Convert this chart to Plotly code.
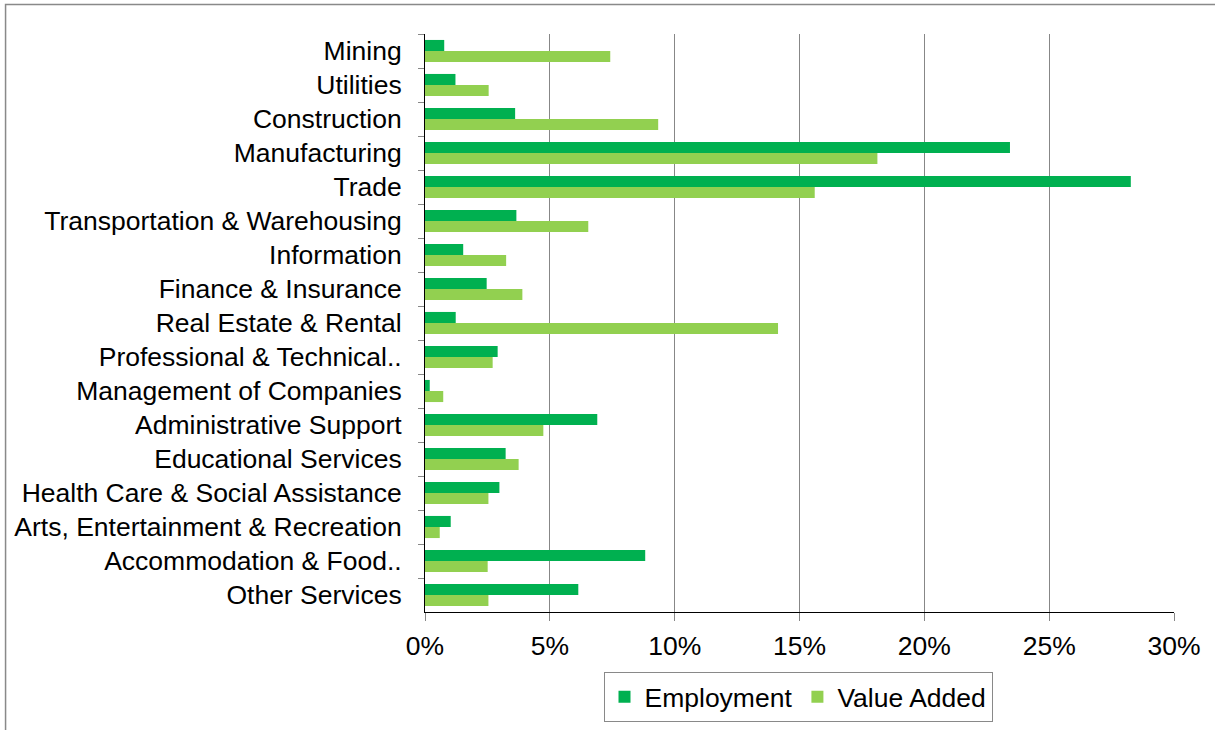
import plotly.graph_objects as go

# Industry shares of employment and value added (percent)
industries = [
    "Mining",
    "Utilities",
    "Construction",
    "Manufacturing",
    "Trade",
    "Transportation & Warehousing",
    "Information",
    "Finance & Insurance",
    "Real Estate & Rental",
    "Professional & Technical..",
    "Management of Companies",
    "Administrative Support",
    "Educational Services",
    "Health Care & Social Assistance",
    "Arts, Entertainment & Recreation",
    "Accommodation & Food..",
    "Other Services",
]
employment = [0.77, 1.22, 3.61, 23.43, 28.27, 3.66, 1.53, 2.47, 1.23, 2.91,
              0.19, 6.90, 3.23, 2.98, 1.03, 8.82, 6.14]
value_added = [7.42, 2.55, 9.34, 18.12, 15.61, 6.54, 3.25, 3.90, 14.14, 2.71,
               0.73, 4.74, 3.75, 2.54, 0.59, 2.51, 2.54]
x_ticks = [0, 5, 10, 15, 20, 25, 30]
x_tick_labels = [f"{v}%" for v in x_ticks]

FONT = "Liberation Sans, Arial, sans-serif"
FS = 26.5

fig = go.Figure()
fig.add_trace(go.Bar(name="Employment", y=industries, x=employment,
                     orientation="h", marker=dict(color="#00B050", line_width=0)))
fig.add_trace(go.Bar(name="Value Added", y=industries, x=value_added,
                     orientation="h", marker=dict(color="#92D050", line_width=0)))

# plot area geometry in pixels
W, H = 1215, 730
L, R, T, B = 424.5, 1174.5, 34, 612
pw, ph = R - L, B - T

def px_x(x):
    return (x - L) / pw

def px_y(y):
    return (B - y) / ph

fig.update_layout(
    width=W, height=H,
    margin=dict(l=L, r=W - R, t=T, b=H - B, pad=0, autoexpand=False),
    paper_bgcolor="white", plot_bgcolor="white",
    font=dict(family=FONT, size=FS, color="black"),
    barmode="group", bargap=0.35, bargroupgap=0,
    showlegend=True,
    legend=dict(
        orientation="h", x=px_x(798), xanchor="center",
        y=px_y(672), yanchor="top",
        bordercolor="#898989", borderwidth=1,
        font=dict(size=FS, family=FONT, color="black"),
        traceorder="normal", itemwidth=30,
    ),
    xaxis=dict(
        range=[0, 30], tickvals=x_ticks, ticktext=x_tick_labels,
        showgrid=True, gridcolor="#878787", gridwidth=1,
        zeroline=False, showline=True, linecolor="black", linewidth=1,
        ticks="outside", ticklen=8, tickcolor="#878787",
        ticklabelstandoff=2, automargin=False,
    ),
    yaxis=dict(
        type="category", autorange="reversed",
        showgrid=False, zeroline=False,
        showline=True, linecolor="black", linewidth=1,
        ticks="outside", ticklen=6, tickcolor="#878787",
        tickson="boundaries", ticklabelstandoff=17, automargin=False,
    ),
    shapes=[
        dict(type="rect", xref="paper", yref="paper",
             x0=px_x(4.5), x1=px_x(1220), y0=px_y(740), y1=px_y(4.5),
             line=dict(color="#898989", width=1.5), fillcolor="rgba(0,0,0,0)",
             layer="below"),
    ],
)

fig.write_html("out.html")
